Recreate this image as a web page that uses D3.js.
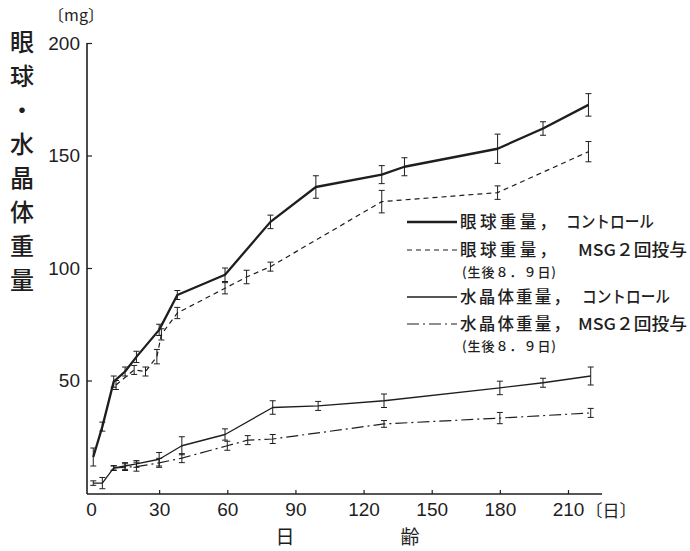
<!DOCTYPE html>
<html><head><meta charset="utf-8">
<script src="https://cdn.jsdelivr.net/npm/d3@7"></script>
<style>
html,body{margin:0;padding:0;background:#fff;}
svg{display:block;}
</style>
</head><body>
<script>
// ---- data ----
const eyeCtrlDays = [1, 5, 10, 15, 20, 30, 38, 59, 79, 99, 128, 138, 179, 199, 219];
const eyeCtrlVals = [16, 29.5, 49.5, 54, 60.5, 72.5, 88, 97, 120.5, 136, 141.5, 145, 153, 162, 172.5];
const eyeCtrlErr  = [4, 2, 2.5, 2, 2.5, 2.5, 2, 3, 3, 5, 4, 4, 6.5, 3, 5];

const eyeMsgDays = [11, 19, 24, 29, 31, 38, 59, 68.5, 79, 128, 179, 219];
const eyeMsgVals = [48, 54.7, 54, 60.6, 70.5, 80, 91, 96, 100.6, 129.5, 133.5, 151.7];
const eyeMsgErr  = [2, 2, 2, 3.2, 2.5, 2.5, 2.5, 3, 2, 5, 3, 4.5];

const lensCtrlDays = [1, 5, 10, 15, 20, 30, 40, 59, 80, 100, 129, 180, 199, 220];
const lensCtrlVals = [4.4, 4.4, 11.2, 12, 12.9, 15, 21, 26, 38, 38.7, 41, 46.7, 49, 52];
const lensCtrlErr  = [1, 2.5, 1, 1.5, 1.5, 3, 4, 2.5, 3, 2, 3, 3, 2, 4];

const lensMsgDays = [10, 15, 20, 30, 40, 60, 69, 80, 129, 180, 220];
const lensMsgVals = [11, 11.5, 11.7, 13.4, 15.5, 21, 23.5, 24, 30.7, 33.3, 35.6];
const lensMsgErr  = [1, 1.5, 2, 2, 2, 2, 2, 2, 1.5, 2.5, 2];

const xTicks = [0, 30, 60, 90, 120, 150, 180, 210];
const yTicks = [50, 100, 150, 200];
const yTitleChars = ["眼", "球", "・", "水", "晶", "体", "重", "量"];
const legendHead = ["眼球重量，", "眼球重量，", "水晶体重量，", "水晶体重量，"];
const legendTail = ["コントロール", "MSG２回投与", "コントロール", "MSG２回投与"];
const legendSub = ["", "(生後８．９日)", "", "(生後８．９日)"];

// ---- chart ----
const W = 690, H = 551;
const ink = "#1e1e1e";
const cjk = "'Noto Sans CJK JP', 'Noto Sans CJK SC', sans-serif";
const num = "'Liberation Sans', Arial, sans-serif";

const svg = d3.select("body").append("svg").attr("width", W).attr("height", H);
svg.append("rect").attr("width", W).attr("height", H).attr("fill", "#fff");

const x = d3.scaleLinear().domain([0, 210]).range([91, 568]);
const y = d3.scaleLinear().domain([0, 200]).range([493, 43]);

// axes lines
svg.append("line").attr("x1", x(0) - 4).attr("x2", x(0) - 4).attr("y1", y(200)).attr("y2", y(0) + 1)
  .attr("stroke", ink).attr("stroke-width", 1.6);
svg.append("line").attr("x1", x(0) - 4).attr("x2", x(225)).attr("y1", y(0) + 1).attr("y2", y(0) + 1)
  .attr("stroke", ink).attr("stroke-width", 1.6);

const xAxis = svg.append("g").attr("transform", `translate(0,${y(0) + 1})`)
  .call(d3.axisBottom(x).tickValues(xTicks).tickSize(-4).tickPadding(9).tickSizeOuter(0));
xAxis.select(".domain").remove();
xAxis.selectAll(".tick line").attr("stroke", ink).attr("stroke-width", 1.2)
  .filter(d => d === 0).remove();
xAxis.selectAll(".tick text").attr("fill", ink).attr("font-family", num).attr("font-size", 19);

const yAxis = svg.append("g").attr("transform", `translate(${x(0) - 4},0)`)
  .call(d3.axisLeft(y).tickValues(yTicks).tickSize(-5).tickPadding(7).tickSizeOuter(0));
yAxis.select(".domain").remove();
yAxis.selectAll(".tick line").attr("stroke", ink).attr("stroke-width", 1.2);
yAxis.selectAll(".tick text").attr("fill", ink).attr("font-family", num).attr("font-size", 19);

// unit labels
svg.append("text").attr("x", 76).attr("y", 21).attr("text-anchor", "middle")
  .attr("font-family", cjk).attr("font-size", 16).attr("fill", ink).text("〔mg〕");
svg.append("text").attr("x", 611).attr("y", 517).attr("text-anchor", "middle")
  .attr("font-family", cjk).attr("font-size", 17).attr("fill", ink).text("〔日〕");
svg.append("text").attr("x", 285).attr("y", 544).attr("text-anchor", "middle")
  .attr("font-family", cjk).attr("font-size", 19).attr("fill", ink).text("日");
svg.append("text").attr("x", 410).attr("y", 544).attr("text-anchor", "middle")
  .attr("font-family", cjk).attr("font-size", 19).attr("fill", ink).text("齢");

// vertical y title
svg.append("g").selectAll("text").data(yTitleChars).join("text")
  .attr("x", 22).attr("y", (d, i) => 51 + i * 34)
  .attr("text-anchor", "middle").attr("font-family", cjk).attr("font-size", 24)
  .attr("font-weight", 500).attr("fill", ink).text(d => d);

// series
const series = [
  {days: eyeCtrlDays, vals: eyeCtrlVals, err: eyeCtrlErr, w: 2.3, dash: null},
  {days: eyeMsgDays, vals: eyeMsgVals, err: eyeMsgErr, w: 1.2, dash: "5,4"},
  {days: lensCtrlDays, vals: lensCtrlVals, err: lensCtrlErr, w: 1.3, dash: null},
  {days: lensMsgDays, vals: lensMsgVals, err: lensMsgErr, w: 1.2, dash: "12,4,2,4"}
];
const line = d3.line().x(d => x(d.d)).y(d => y(d.v));

series.forEach(s => {
  const pts = s.days.map((d, i) => ({d, v: s.vals[i], e: s.err[i]}));
  svg.append("path").datum(pts).attr("d", line).attr("fill", "none")
    .attr("stroke", ink).attr("stroke-width", s.w).attr("stroke-dasharray", s.dash)
    .attr("stroke-linejoin", "round");
  const eb = svg.append("g").attr("stroke", ink).attr("stroke-width", 1);
  eb.selectAll(".v").data(pts).join("line")
    .attr("x1", d => x(d.d)).attr("x2", d => x(d.d))
    .attr("y1", d => y(d.v - d.e)).attr("y2", d => y(d.v + d.e));
  eb.selectAll(".t").data(pts).join("line")
    .attr("x1", d => x(d.d) - 3).attr("x2", d => x(d.d) + 3)
    .attr("y1", d => y(d.v + d.e)).attr("y2", d => y(d.v + d.e));
  eb.selectAll(".b").data(pts).join("line")
    .attr("x1", d => x(d.d) - 3).attr("x2", d => x(d.d) + 3)
    .attr("y1", d => y(d.v - d.e)).attr("y2", d => y(d.v - d.e));
});

// legend
const legY = [222, 250, 297, 324];
const headW = [96, 96, 110, 110];
const tailX = [566, 578, 582, 578];
const tailW = [88, 109, 88, 109];
const lg = svg.append("g");
series.forEach((s, i) => {
  lg.append("line").attr("x1", 407).attr("x2", 457).attr("y1", legY[i]).attr("y2", legY[i])
    .attr("stroke", ink).attr("stroke-width", s.w).attr("stroke-dasharray", s.dash);
  lg.append("text").attr("x", 460).attr("y", legY[i] + 6)
    .attr("font-family", cjk).attr("font-size", 16.5).attr("font-weight", 500)
    .attr("textLength", headW[i]).attr("lengthAdjust", "spacing")
    .attr("fill", ink).text(legendHead[i]);
  lg.append("text").attr("x", tailX[i]).attr("y", legY[i] + 6)
    .attr("font-family", cjk).attr("font-size", 16.5).attr("font-weight", 500)
    .attr("textLength", tailW[i]).attr("lengthAdjust", "spacingAndGlyphs")
    .attr("fill", ink).text(legendTail[i]);
  if (legendSub[i]) {
    lg.append("text").attr("x", 462).attr("y", legY[i] + 27)
      .attr("font-family", cjk).attr("font-size", 13).attr("font-weight", 500)
      .attr("textLength", 94).attr("lengthAdjust", "spacing")
      .attr("fill", ink).text(legendSub[i]);
  }
});
</script>
</body></html>
